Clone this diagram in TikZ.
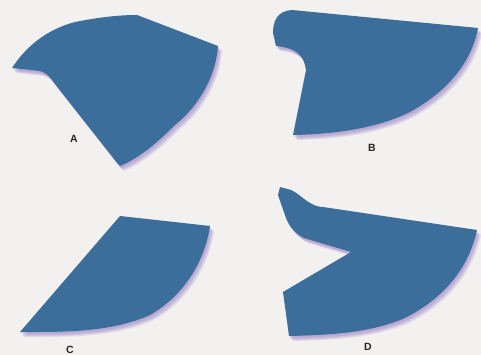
\documentclass[tikz,border=0pt]{standalone}
\usepackage{fontspec}
\setmainfont{Liberation Sans}
\begin{document}
\begin{tikzpicture}[x=1pt,y=-1pt,
  shapefill/.style={fill=blueA},
  shadowfill/.style={fill=shadowC,opacity=0.18},
  lbl/.style={font=\bfseries\fontsize{10.5}{10.5}\selectfont,text=black!85}]
\definecolor{blueA}{HTML}{3C6E9C}
\definecolor{shadowC}{HTML}{8E72C0}
\definecolor{bgC}{HTML}{F3F1EF}
\fill[bgC] (0,0) rectangle (481,355);
\useasboundingbox (0,0) rectangle (481,355);
\def\shapeA{(12,68) .. controls (25,48) and (45,30) .. (75,22) .. controls (100,17) and (120,15) .. (137,15) -- (218,46) .. controls (216,75) and (200,105) .. (175,125) .. controls (160,140) and (140,158) .. (120,166) -- (118,164) -- (55,84) .. controls (50,77) and (47,73) .. (40,71) -- cycle}
\def\shapeB{(273,33) .. controls (273,20) and (278,11) .. (292,10) -- (478,28) .. controls (472,60) and (450,90) .. (410,112) .. controls (380,127) and (340,134) .. (293,135) -- (306,70) .. controls (304,55) and (296,48) .. (276,46) -- cycle}
\def\shapeC{(120,216) -- (210,226) .. controls (205,260) and (185,295) .. (150,315) .. controls (110,333) and (60,332) .. (20,332) -- cycle}
\def\shapeD{(280,187) -- (291,190) .. controls (298,193) and (304,200) .. (312,204) .. controls (316,206) and (319,207) .. (323,207) -- (477,230) .. controls (470,262) and (450,295) .. (405,318) .. controls (370,333) and (330,335) .. (289,336) -- (283,292) -- (351,252) -- (304,238) .. controls (296,234) and (290,228) .. (286,218) -- (278,195) -- cycle}
\foreach \dx/\dy in {1/2,2/3,3/4,4/5}{
  \fill[shadowfill,shift={(\dx,\dy)}] \shapeA;
  \fill[shadowfill,shift={(\dx,\dy)}] \shapeB;
  \fill[shadowfill,shift={(\dx,\dy)}] \shapeC;
  \fill[shadowfill,shift={(\dx,\dy)}] \shapeD;
}
\fill[shapefill] \shapeA;
\fill[shapefill] \shapeB;
\fill[shapefill] \shapeC;
\fill[shapefill] \shapeD;
\node[lbl] (la) at (74,139) {A};
\node[lbl] (lb) at (372,148) {B};
\node[lbl] (lc) at (70,350) {C};
\node[lbl] (ld) at (368,347) {D};
\end{tikzpicture}
\end{document}
